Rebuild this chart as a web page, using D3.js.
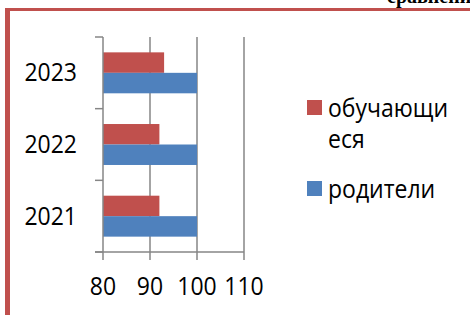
<!DOCTYPE html>
<html>
<head>
<meta charset="utf-8">
<script src="https://cdn.jsdelivr.net/npm/d3@7"></script>
<style>
  body { margin: 0; background: #fff; }
  text { font-family: "Open Sans", "Noto Sans", sans-serif; fill: #000; }
</style>
</head>
<body>
<svg id="chart"></svg>
<script>
// data
const years = ["2023", "2022", "2021"];
const series = ["обучающиеся", "родители"];
const students = [93, 92, 92];   // обучающиеся
const parents = [100, 100, 100]; // родители
const xTicks = [80, 90, 100, 110];
const colors = ["#C0504D", "#4F81BD"];

const width = 470, height = 315;
const svg = d3.select("#chart").attr("width", width).attr("height", height);

// frame (page border around the chart)
svg.append("rect").attr("x", 5).attr("y", 8).attr("width", width).attr("height", 3).attr("fill", "#C0504D");
svg.append("rect").attr("x", 5).attr("y", 8).attr("width", 5).attr("height", height).attr("fill", "#C0504D");

// heading of the page, cut off by the top edge
svg.append("text")
    .attr("x", 387).attr("y", 3)
    .style("font-family", "'Liberation Serif', serif")
    .style("font-weight", "bold")
    .style("font-size", "20px")
    .text("сравнение");

const x = d3.scaleLinear().domain([80, 110]).range([103, 244]);
const y = d3.scaleBand().domain(years).range([37, 252]);
const inner = d3.scaleBand().domain(series).range([0, y.bandwidth()]).paddingOuter(0.75);

const grey = "#868686";
const textStretch = "scale(1,1.1)";

// vertical gridlines
svg.append("g").selectAll("line")
    .data(xTicks.slice(1))
    .join("line")
    .attr("x1", d => x(d)).attr("x2", d => x(d))
    .attr("y1", 37).attr("y2", 252)
    .attr("stroke", grey).attr("stroke-width", 1.5);

// bars
const rows = years.map((yr, i) => ({ year: yr, values: [students[i], parents[i]] }));
const groups = svg.append("g").selectAll("g")
    .data(rows)
    .join("g")
    .attr("transform", d => `translate(0,${y(d.year)})`);

groups.selectAll("rect")
    .data(d => d.values.map((v, j) => ({ name: series[j], value: v, color: colors[j] })))
    .join("rect")
    .attr("x", x(80))
    .attr("y", d => inner(d.name))
    .attr("width", d => x(d.value) - x(80))
    .attr("height", inner.bandwidth())
    .attr("fill", d => d.color);

// y axis
const yAxis = svg.append("g");
yAxis.append("line")
    .attr("x1", 103).attr("x2", 103).attr("y1", 37).attr("y2", 252)
    .attr("stroke", grey).attr("stroke-width", 1.5);
yAxis.selectAll(".tick")
    .data(years.map(d => y(d)).concat([y.range()[1]]))
    .join("line")
    .attr("class", "tick")
    .attr("x1", 95).attr("x2", 103)
    .attr("y1", d => d).attr("y2", d => d)
    .attr("stroke", grey).attr("stroke-width", 1.5);
yAxis.selectAll("text")
    .data(years)
    .join("text")
    .attr("text-anchor", "end")
    .attr("transform", d => `translate(77,${y(d) + y.bandwidth() / 2 + 8.5}) ${textStretch}`)
    .style("font-size", "23px")
    .text(d => d);

// x axis
const xAxis = svg.append("g");
xAxis.append("line")
    .attr("x1", 95).attr("x2", x(110)).attr("y1", 252).attr("y2", 252)
    .attr("stroke", grey).attr("stroke-width", 1.5);
xAxis.selectAll(".tick")
    .data(xTicks)
    .join("line")
    .attr("class", "tick")
    .attr("x1", d => x(d)).attr("x2", d => x(d))
    .attr("y1", 252).attr("y2", 260)
    .attr("stroke", grey).attr("stroke-width", 1.5);
xAxis.selectAll("text")
    .data(xTicks)
    .join("text")
    .attr("text-anchor", "middle")
    .attr("transform", d => `translate(${x(d)},295) ${textStretch}`)
    .style("font-size", "23px")
    .text(d => d);

// legend
const legendRows = [
    { name: series[0], color: colors[0], top: 100 },
    { name: series[1], color: colors[1], top: 181 }
];
const legend = svg.append("g").selectAll("g")
    .data(legendRows)
    .join("g")
    .attr("transform", d => `translate(307,${d.top})`);
legend.append("rect")
    .attr("width", 15).attr("height", 15)
    .attr("fill", d => d.color);
legend.append("text")
    .attr("transform", `translate(21,17) ${textStretch}`)
    .style("font-size", "23px")
    .each(function (d) {
        // wrap long names like the original legend does
        const el = d3.select(this);
        const maxW = 125;
        let line = "", lines = [];
        for (const ch of d.name) {
            el.text(line + ch);
            if (this.getComputedTextLength() > maxW) { lines.push(line); line = ch; }
            else line += ch;
        }
        lines.push(line);
        el.text(null);
        lines.forEach((l, i) => {
            el.append("tspan").attr("x", 0).attr("y", i * 28).text(l);
        });
    });
</script>
</body>
</html>
